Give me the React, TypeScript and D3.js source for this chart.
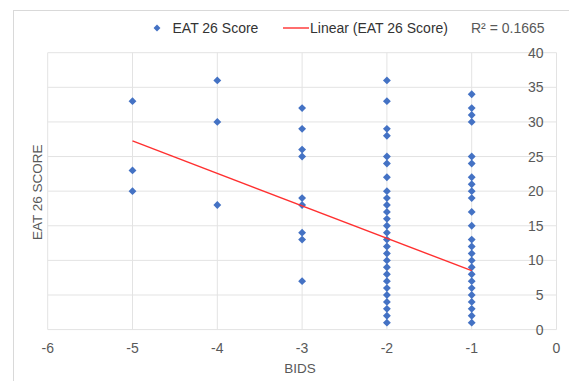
import React from "react";
import * as d3 from "d3";

// Data
const bidsValues = [-5, -4, -3, -2, -1];
const eatAtMinus5 = [33, 23, 20];
const eatAtMinus4 = [36, 30, 18];
const eatAtMinus3 = [32, 29, 26, 25, 19, 18, 14, 13, 7];
const eatAtMinus2 = [36, 33, 29, 28, 25, 24, 22, 20, 19, 18, 17, 16, 15, 14, 13, 12, 11, 10, 9, 8, 7, 6, 5, 4, 3, 2, 1];
const eatAtMinus1 = [34, 32, 31, 30, 25, 24, 22, 21, 20, 19, 17, 15, 13, 12, 11, 10, 9, 8, 7, 6, 5, 4, 3, 2, 1];
const columns = [eatAtMinus5, eatAtMinus4, eatAtMinus3, eatAtMinus2, eatAtMinus1];

// Linear trendline (y = slope * x + intercept)
const trendSlope = -4.685;
const trendIntercept = 3.825;
const trendRange = [-5, -1];
const rSquaredLabel = "R² = 0.1665";

const xTicks = [-6, -5, -4, -3, -2, -1, 0];
const yTicks = [0, 5, 10, 15, 20, 25, 30, 35, 40];

const seriesName = "EAT 26 Score";
const trendName = "Linear (EAT 26 Score)";
const xTitle = "BIDS";
const yTitle = "EAT 26 SCORE";

export default function App() {
  const W = 569;
  const H = 381;
  const left = 47.7;
  const right = 556.5;
  const top = 52.7;
  const bottom = 329.6;
  const x = d3.scaleLinear().domain([-6, 0]).range([left, right]);
  const y = d3.scaleLinear().domain([0, 40]).range([bottom, top]);

  const points: { x: number; y: number }[] = [];
  bidsValues.forEach((b, i) => columns[i].forEach((v) => points.push({ x: b, y: v })));

  const diamond = d3.symbol().type(d3.symbolSquare).size(31)()!;
  const legendDiamond = d3.symbol().type(d3.symbolSquare).size(24)()!;
  const line = d3
    .line<number>()
    .x((d) => x(d))
    .y((d) => y(trendSlope * d + trendIntercept));

  const font = "'Liberation Sans', Arial, sans-serif";
  const grid = "#e3e3e3";
  const txt = "#595959";
  const red = "#FF3030";

  return (
    <svg
      width={W}
      height={H}
      style={{ position: "absolute", left: 0, top: 0, display: "block" }}
      fontFamily={font}
    >
      <rect x={0} y={0} width={W} height={H} fill="#ffffff" />
      <rect x={13.5} y={10.5} width={W + 10} height={H + 10} fill="none" stroke="#d9d9d9" strokeWidth={1} />

      {/* gridlines */}
      {yTicks.map((t) => (
        <line key={"gy" + t} x1={left} x2={right} y1={y(t)} y2={y(t)} stroke={grid} strokeWidth={1} />
      ))}
      {xTicks.map((t) => (
        <line key={"gx" + t} x1={x(t)} x2={x(t)} y1={top} y2={bottom} stroke={grid} strokeWidth={1} />
      ))}

      {/* y tick labels (axis crosses at x = 0) */}
      {yTicks.map((t) => (
        <text
          key={"ty" + t}
          x={x(0) - 13}
          y={y(t)}
          dy="0.36em"
          textAnchor="end"
          fontSize={14}
          fill={txt}
        >
          {t}
        </text>
      ))}

      {/* x tick labels */}
      {xTicks.map((t) => (
        <text key={"tx" + t} x={x(t)} y={bottom + 23} textAnchor="middle" fontSize={14} fill={txt}>
          {t}
        </text>
      ))}

      {/* points */}
      {points.map((p, i) => (
        <path
          key={"p" + i}
          d={diamond}
          transform={`translate(${x(p.x)},${y(p.y)}) rotate(45)`}
          fill="#4472C4"
        />
      ))}

      {/* trendline */}
      <path d={line(trendRange)!} fill="none" stroke={red} strokeWidth={1.4} />

      {/* axis titles */}
      <text x={(left + right) / 2 - 2} y={373} textAnchor="middle" fontSize={13.5} fill={txt}>
        {xTitle}
      </text>
      <text
        transform={`translate(42,${(top + bottom) / 2 + 1}) rotate(-90)`}
        textAnchor="middle"
        fontSize={13.5}
        fill={txt}
      >
        {yTitle}
      </text>

      {/* legend */}
      <path d={legendDiamond} transform="translate(157,28) rotate(45)" fill="#4472C4" />
      <text x={172.5} y={28} dy="0.36em" fontSize={14} fill="#333333">
        {seriesName}
      </text>
      <line x1={283} x2={309} y1={28} y2={28} stroke={red} strokeWidth={1.4} />
      <text x={310} y={28} dy="0.36em" fontSize={14} fill="#333333">
        {trendName}
      </text>
      <text x={471} y={28} dy="0.36em" fontSize={14} fill={txt}>
        {rSquaredLabel}
      </text>
    </svg>
  );
}
